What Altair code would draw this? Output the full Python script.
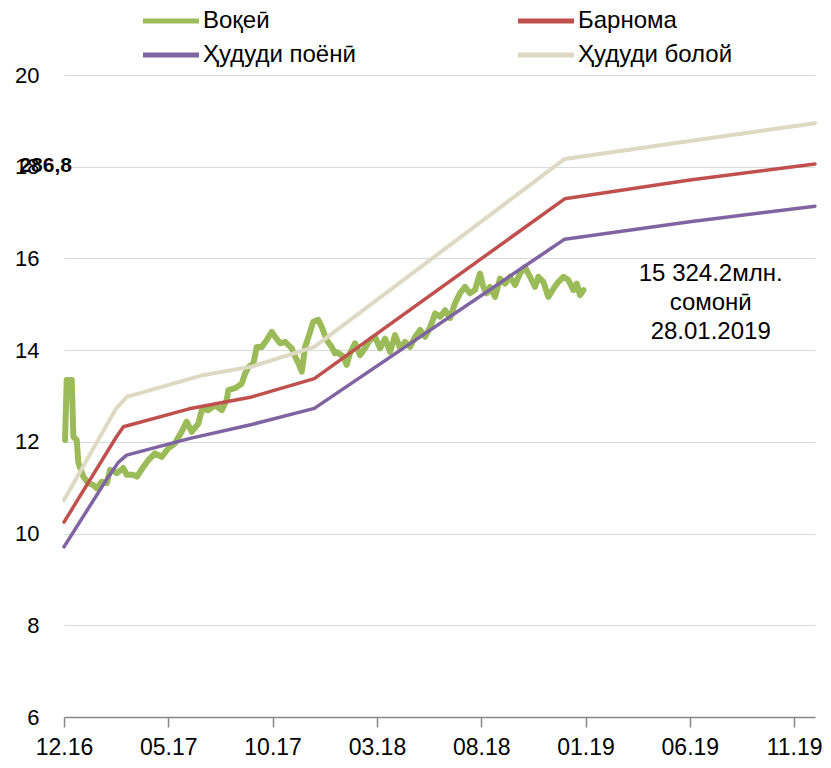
import altair as alt
import pandas as pd

# ---- data (x = months since Dec 2016) ----
series_names = ["Воқеӣ", "Барнома", "Ҳудуди поёнӣ", "Ҳудуди болой"]
series_colors = ["#9BBB59", "#C0504D", "#8064A2", "#DDD9C3"]

actual_m = [0.05, 0.13, 0.37, 0.45, 0.61, 0.69, 0.93, 1.16, 1.40, 1.57, 1.81, 2.05, 2.21, 2.53,
            2.84, 3.01, 3.32, 3.49, 3.80, 4.04, 4.36, 4.68, 5.00, 5.32, 5.64, 5.88, 6.12, 6.44,
            6.62, 6.92, 7.24, 7.56, 7.80, 7.88, 8.20, 8.52, 8.68, 8.84, 9.08, 9.24, 9.48, 9.72,
            9.96, 10.12, 10.36, 10.60, 10.92, 11.08, 11.24, 11.40, 11.56, 11.72, 11.95, 12.19,
            12.35, 12.59, 12.83, 12.99, 13.07, 13.39, 13.55, 13.71, 13.95, 14.19, 14.43, 14.67,
            14.91, 15.15, 15.39, 15.63, 15.87, 16.11, 16.35, 16.59, 16.83, 17.07, 17.31, 17.55,
            17.79, 18.03, 18.27, 18.51, 18.74, 18.98, 19.22, 19.46, 19.70, 19.94, 20.10, 20.26,
            20.42, 20.66, 20.90, 21.14, 21.38, 21.62, 21.86, 22.10, 22.34, 22.58, 22.74, 22.98,
            23.22, 23.46, 23.70, 23.94, 24.18, 24.42, 24.58, 24.74, 24.90]
actual_v = [12.04, 13.35, 13.35, 12.11, 12.04, 11.54, 11.24, 11.10, 11.06, 10.99, 11.13, 11.10, 11.39, 11.32,
            11.43, 11.28, 11.28, 11.24, 11.45, 11.60, 11.75, 11.67, 11.86, 11.97, 12.22, 12.44, 12.22, 12.40,
            12.72, 12.69, 12.80, 12.69, 12.91, 13.13, 13.17, 13.27, 13.49, 13.63, 13.71, 14.07, 14.07, 14.22,
            14.40, 14.29, 14.15, 14.18, 14.04, 13.86, 13.71, 13.53, 14.07, 14.29, 14.62, 14.66,
            14.51, 14.22, 14.07, 13.93, 13.96, 13.86, 13.68, 13.93, 14.15, 13.89, 14.04, 14.22,
            14.29, 14.04, 14.25, 13.96, 14.33, 14.04, 14.18, 14.07, 14.29, 14.44, 14.29, 14.50,
            14.80, 14.73, 14.87, 14.70, 15.02, 15.24, 15.38, 15.24, 15.31, 15.67, 15.38, 15.24,
            15.38, 15.16, 15.56, 15.45, 15.60, 15.42, 15.67, 15.81, 15.60, 15.38, 15.60, 15.49,
            15.16, 15.34, 15.49, 15.60, 15.53, 15.31, 15.45, 15.20, 15.31]

plan_m = [0, 2.5, 2.85, 6, 9, 12, 24, 30, 36]
plan_v = [10.25, 12.10, 12.33, 12.72, 12.98, 13.38, 17.30, 17.71, 18.06]

lower_m = [0, 2.0, 2.6, 3.0, 6, 9, 12, 24, 30, 36]
lower_v = [9.71, 11.15, 11.55, 11.71, 12.07, 12.38, 12.73, 16.42, 16.80, 17.14]

upper_m = [0, 2.5, 2.8, 3.0, 6.7, 9, 12, 24, 30, 36]
upper_v = [10.73, 12.73, 12.87, 12.98, 13.46, 13.64, 14.07, 18.17, 18.56, 18.95]

tick_months = [0, 5, 10, 15, 20, 25, 30, 35]
tick_labels = ["12.16", "05.17", "10.17", "03.18", "08.18", "01.19", "06.19", "11.19"]
y_ticks = [6, 8, 10, 12, 14, 16, 18, 20]

annotation_lines = "15 324.2млн.\nсомонӣ\n28.01.2019"
annotation_month = 31.0
annotation_value = 15.65
stray_label = "286,8"

FONT = "Liberation Sans, Arial, sans-serif"

# ---- build tables ----
def frame(name, ms, vs):
    return pd.DataFrame({"month": ms, "value": vs, "series": name})

df_actual = frame(series_names[0], actual_m, actual_v)
df_plan = frame(series_names[1], plan_m, plan_v)
df_lower = frame(series_names[2], lower_m, lower_v)
df_upper = frame(series_names[3], upper_m, upper_v)

label_expr = "[" + ",".join("'%s'" % t for t in tick_labels) + "][round(datum.value/5)]"

xs = alt.Scale(domain=[0, 36], nice=False, zero=False)
ys = alt.Scale(domain=[6, 20], nice=False, zero=False)

x_enc = alt.X("month:Q", scale=xs,
              axis=alt.Axis(values=tick_months, labelExpr=label_expr, title=None,
                            grid=False, domain=True, domainColor="#888888", domainWidth=1.5,
                            ticks=True, tickSize=10, tickColor="#888888", tickWidth=1.5,
                            labelFont=FONT, labelFontSize=23, labelColor="#000000",
                            labelPadding=9, labelFlush=False))
y_enc = alt.Y("value:Q", scale=ys,
              axis=alt.Axis(values=y_ticks, title=None,
                            grid=True, gridColor="#D9D9D9", gridWidth=1.2,
                            domain=False, ticks=False,
                            labelFont=FONT, labelFontSize=22, labelColor="#000000",
                            labelPadding=25))

color_scale = alt.Scale(domain=series_names, range=series_colors)

def line_layer(df, width):
    return alt.Chart(df).mark_line(strokeWidth=width, strokeJoin="round", strokeCap="round").encode(
        x=x_enc, y=y_enc, color=alt.Color("series:N", scale=color_scale, legend=None),
        order=alt.Order("month:Q"))

layers = [
    line_layer(df_actual, 6),
    line_layer(df_plan, 3.5),
    line_layer(df_lower, 3.5),
    line_layer(df_upper, 4),
]

# ---- legend (two columns, row-wise), placed above the plot area ----
leg_col_x = [79, 454]      # symbol start, px from plot left
leg_row_y = [-54, -20]     # row centre, px from plot top
leg_sym_len = 56
leg = pd.DataFrame({
    "series": series_names,
    "lx": [leg_col_x[i % 2] for i in range(4)],
    "ly": [leg_row_y[i // 2] for i in range(4)],
})
leg["lx2"] = leg["lx"] + leg_sym_len
leg["tx"] = leg["lx2"] + 4

leg_sym = alt.Chart(leg).mark_rule(strokeWidth=5).encode(
    x=alt.X("lx:Q", scale=None), x2="lx2:Q", y=alt.Y("ly:Q", scale=None),
    color=alt.Color("series:N", scale=color_scale, legend=None))
leg_txt = alt.Chart(leg).mark_text(font=FONT, fontSize=24, color="#000000",
                                   align="left", baseline="middle").encode(
    x=alt.X("tx:Q", scale=None), y=alt.Y("ly:Q", scale=None), text="series:N")

ann = alt.Chart(pd.DataFrame({"month": [annotation_month], "value": [annotation_value],
                              "text": [annotation_lines]})).mark_text(
    font=FONT, fontSize=24, color="#000000", align="center", baseline="middle",
    lineBreak="\n", lineHeight=29).encode(
    x=alt.X("month:Q", scale=xs), y=alt.Y("value:Q", scale=ys), text="text:N")

stray = alt.Chart(pd.DataFrame({"text": [stray_label]})).mark_text(
    font=FONT, fontSize=21, fontWeight="bold", color="#000000",
    align="right", baseline="middle").encode(
    x=alt.value(8), y=alt.value(91), text="text:N")

chart = alt.layer(*layers, leg_sym, leg_txt, ann, stray).properties(
    width=751, height=642,
    autosize=alt.AutoSizeParams(type="none"),
    padding={"left": 56, "top": 67, "right": 8, "bottom": 44},
    background="#FFFFFF",
).configure_view(stroke=None)

chart.save("out.html", embed_options={"renderer": "svg", "actions": False})
